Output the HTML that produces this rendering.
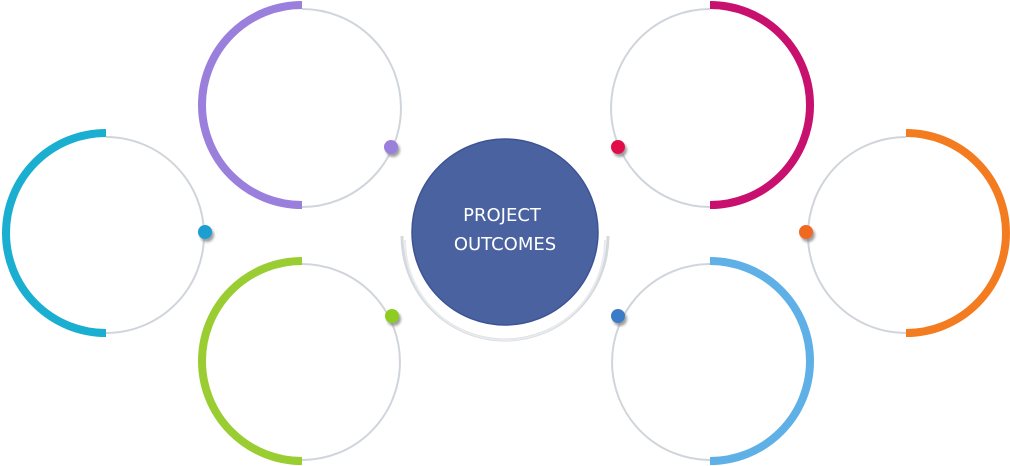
<!DOCTYPE html>
<html><head><style>body{margin:0;background:#fff}svg{display:block}</style></head><body>
<svg width="1010" height="466" viewBox="0 0 1010 466" xmlns="http://www.w3.org/2000/svg">
<defs>
<filter id="sh" x="-50%" y="-50%" width="200%" height="200%"><feDropShadow dx="2" dy="3" stdDeviation="1.2" flood-color="#888" flood-opacity="0.8"/></filter>
</defs>
<g fill="none">
<g stroke="#d0d5db" stroke-width="2">
<path d="M106 137 A98 98 0 0 1 106 333"/>
<path d="M302 9 A97 97 0 0 1 302 207"/>
<path d="M302 264 A98 98 0 0 1 302 460"/>
<path d="M710 9 A97 97 0 0 0 710 207"/>
<path d="M906 137 A98 98 0 0 0 906 333"/>
<path d="M710 264 A98 98 0 0 0 710 460"/>
</g>
<path d="M106 133 A100 100 0 0 0 106 333" stroke="#1aaed1" stroke-width="8"/>
<path d="M302 5 A100 100 0 0 0 302 205" stroke="#9a7fdc" stroke-width="8"/>
<path d="M302 261 A100 100 0 0 0 302 461" stroke="#9acd32" stroke-width="8"/>
<path d="M710 5 A100 100 0 0 1 710 205" stroke="#c8106e" stroke-width="8"/>
<path d="M906 133 A100 100 0 0 1 906 333" stroke="#f47c20" stroke-width="8"/>
<path d="M710 261 A100 100 0 0 1 710 461" stroke="#5eb0e6" stroke-width="8"/>
<path d="M402 236 A103 104 0 0 0 608 236" stroke="#d5d9de" stroke-width="3"/>
<path d="M405 240 A100 100 0 0 0 605 240" stroke="#e8eaed" stroke-width="2"/>
</g>
<circle cx="505" cy="232" r="93" fill="#4a62a0" stroke="#3d5494" stroke-width="1.5"/>
<text x="502" y="221" fill="#fff" font-family="DejaVu Sans, sans-serif" font-size="18" text-anchor="middle">PROJECT</text>
<text x="505" y="250" fill="#fff" font-family="DejaVu Sans, sans-serif" font-size="18" text-anchor="middle">OUTCOMES</text>
<g filter="url(#sh)">
<circle cx="205" cy="232" r="7" fill="#1a9ed1"/>
<circle cx="391" cy="147" r="7" fill="#9a7fdc"/>
<circle cx="392" cy="316" r="7" fill="#8fcc20"/>
<circle cx="618" cy="147" r="7" fill="#e0104a"/>
<circle cx="806" cy="232" r="7" fill="#f06820"/>
<circle cx="618" cy="316" r="7" fill="#3a7cc8"/>
</g>
</svg>
</body></html>
